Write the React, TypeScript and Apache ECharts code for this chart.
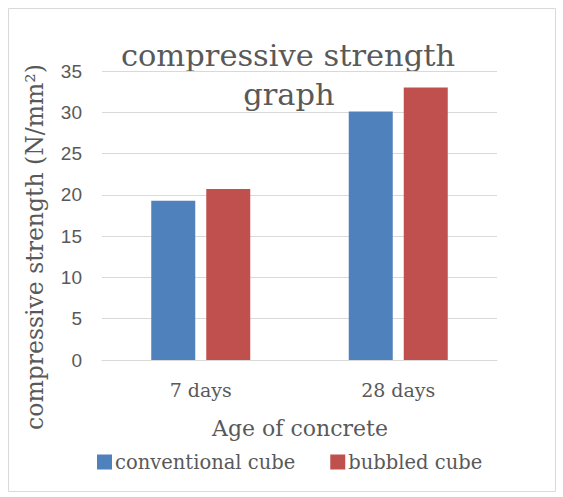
import React, { useEffect, useRef } from "react";
import * as echarts from "echarts";

const categories = ["7 days", "28 days"];
const conventional = [19.3, 30.1];
const bubbled = [20.7, 33.0];
const seriesNames = ["conventional cube", "bubbled cube"];
const titleLines = ["compressive strength", "graph"];
const xName = "Age of concrete";
const yName = "compressive strength (N/mm²)";

const TEXT = "#595959";
const SERIF = "'DejaVu Serif', serif";

export default function App() {
  const ref = useRef<HTMLDivElement>(null);
  useEffect(() => {
    if (!ref.current) return;
    const chart = echarts.init(ref.current, undefined, { renderer: "svg" });
    chart.setOption({
      animation: false,
      backgroundColor: "#ffffff",
      grid: { left: 102, right: 66, top: 71, bottom: 137, containLabel: false },
      graphic: [
        {
          type: "rect",
          shape: { x: 8.5, y: 8.5, width: 547, height: 483 },
          style: { fill: "none", stroke: "#d9d9d9", lineWidth: 1 },
          z: -1,
        },
        {
          type: "text",
          x: 288,
          y: 55,
          style: {
            text: titleLines[0],
            fill: TEXT,
            font: `30.5px ${SERIF}`,
            textAlign: "center",
            textVerticalAlign: "middle",
          },
        },
        {
          type: "text",
          x: 289,
          y: 94,
          style: {
            text: titleLines[1],
            fill: TEXT,
            font: `30.5px ${SERIF}`,
            textAlign: "center",
            textVerticalAlign: "middle",
          },
        },
        {
          type: "text",
          x: 35,
          y: 247,
          rotation: Math.PI / 2,
          style: {
            text: yName,
            fill: TEXT,
            font: `23.5px ${SERIF}`,
            textAlign: "center",
            textVerticalAlign: "middle",
          },
        },
        {
          type: "text",
          x: 300,
          y: 428,
          style: {
            text: xName,
            fill: TEXT,
            font: `22px ${SERIF}`,
            textAlign: "center",
            textVerticalAlign: "middle",
          },
        },
      ],
      legend: {
        bottom: 20,
        left: 92,
        itemWidth: 15,
        itemHeight: 15,
        itemGap: 35,
        icon: "rect",
        textStyle: { color: TEXT, fontFamily: SERIF, fontSize: 19.5, padding: [0, 0, 0, -2] },
        data: seriesNames,
      },
      xAxis: {
        type: "category",
        data: categories,
        axisLine: { lineStyle: { color: "#d9d9d9" } },
        axisTick: { show: false },
        axisLabel: { color: TEXT, fontFamily: SERIF, fontSize: 19, margin: 20 },
      },
      yAxis: {
        type: "value",
        min: 0,
        max: 35,
        interval: 5,
        axisLine: { show: false },
        axisTick: { show: false },
        splitLine: { lineStyle: { color: "#d9d9d9" } },
        axisLabel: { color: TEXT, fontFamily: "'Liberation Sans', sans-serif", fontSize: 19, margin: 20 },
      },
      series: [
        {
          name: seriesNames[0],
          type: "bar",
          data: conventional,
          barWidth: 44,
          barGap: "25%",
          itemStyle: { color: "#4f81bd" },
        },
        {
          name: seriesNames[1],
          type: "bar",
          data: bubbled,
          barWidth: 44,
          itemStyle: { color: "#c0504d" },
        },
      ],
    });
    return () => chart.dispose();
  }, []);
  return (
    <div
      ref={ref}
      style={{ position: "absolute", left: 0, top: 0, width: 563, height: 497 }}
    />
  );
}
